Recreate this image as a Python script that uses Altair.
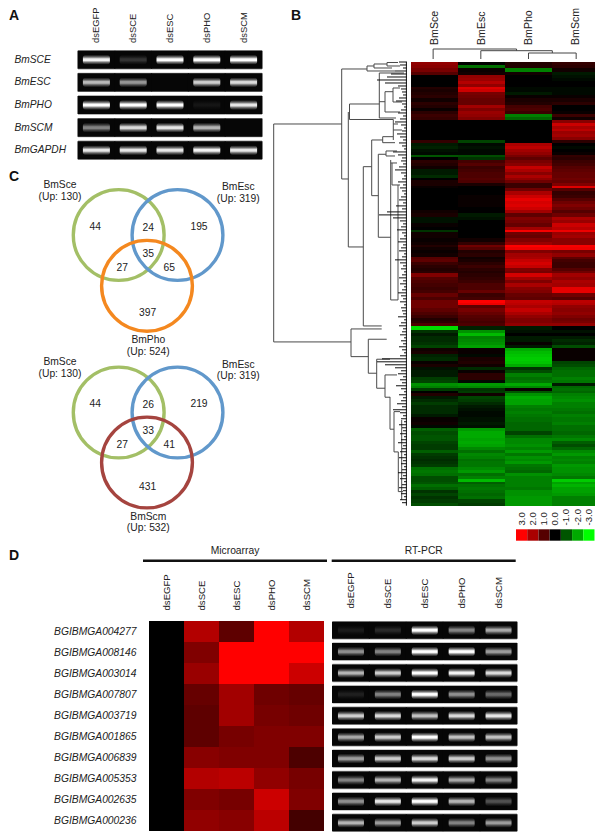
import altair as alt
import pandas as pd

W, H = 587, 826
LEFT, TOP = 8, 8
FONT = "Liberation Sans"
INK = "#222222"

# ---------- Panel A ----------
A_SAMPLES = ["dsEGFP", "dsSCE", "dsESC", "dsPHO", "dsSCM"]
A_GENES = ["BmSCE", "BmESC", "BmPHO", "BmSCM", "BmGAPDH"]
A_BANDS = [
    [.95, .18, 1, 1, 1],
    [.72, .58, 0, .8, .85],
    [1, 1, 1, .06, .9],
    [.5, .85, .9, .7, 0],
    [.9, .9, .9, .95, .9],
]

# ---------- Panel B ----------
B_CONDITIONS = ["BmSce", "BmEsc", "BmPho", "BmScm"]
# each block: height of the block in the heat map, rows (Sce, Esc, Pho, Scm)
HEAT_BLOCKS = [
    (13, [(1.7,0,.4,.6),(1.6,-1.3,.4,.5),(1.4,.1,-1.5,.2),(1,.2,.2,-.3)]),
    (11.7, [(0,1.7,0,-.2),(0,1.8,0,-.1),(0,2.1,0,0),(0,1.7,0,0)]),
    (5, [(.4,2.6,-.1,-.1),(.3,2.4,-.1,-.1)]),
    (13.3, [(.4,1.4,-.3,-.1),(.5,1.3,.1,.1),(.2,1.2,.3,.3),(.5,1.2,.4,.5)]),
    (15, [(.4,1.9,.8,0),(.1,1.5,.9,0),(.5,1.8,.7,.1),(.7,1.7,-1.5,.7),(.6,1.5,-1.2,.2)]),
    (20, [(0,0,0,1.6),(0,0,0,2.4),(0,0,0,2),(0,0,0,2.2),(0,0,0,1.8),(0,0,0,1.9),(0,0,0,1.6)]),
    (3.3, [(.6,-.8,0,.5)]),
    (11.7, [(-.3,-.1,2,0),(-.4,-.2,2.2,-.1),(-.2,-.1,1.9,0),(-.1,-.1,1.7,.1)]),
    (5, [(-1,-.9,1.4,.6),(0,-.6,1.1,.5)]),
    (15, [(.5,.8,1.4,.7),(.4,1,1.6,.8),(.2,.7,2.3,1),(-.3,.8,2,1.1),(-.3,.9,1.6,1.2)]),
    (11, [(-.5,.9,2,1.2),(0,1,1.7,1.3),(.3,.9,1.3,1.2),(.3,.3,.7,1.5)]),
    (2.3, [(.1,0,.7,2.6)]),
    (25, [(0,0,1.3,1),(0,0,2,.6),(0,.1,2.4,.7),(0,.1,2.7,1),(0,.1,2.5,1.3),(0,.1,2.6,1.5),(0,0,2.4,1.3),(.2,0,1.9,1)]),
    (16.7, [(.3,-.3,1.1,1.3),(-.2,-.2,1.5,2),(-.2,0,1.4,1.8),(.1,0,1.2,2.4),(0,0,1.9,2.2)]),
    (2, [(-.6,0,2.9,2.8)]),
    (13, [(.2,0,1.3,1.8),(.2,0,1.2,1.9),(.1,.2,1.5,1.6),(.2,.6,1.8,1.6)]),
    (5, [(.4,1.3,3,2.9),(.2,1,2.8,2.8)]),
    (6.7, [(.1,.4,1.5,1.4),(.2,.5,1.9,1.7)]),
    (16.7, [(1,.2,2,1.1),(1.1,.3,2.3,.8),(.7,.5,2.5,.7),(.5,.7,2.3,.7),(.4,.5,1.5,1),(.5,.4,1.4,1.3)]),
    (13.3, [(1.5,.5,2.5,1.9),(1,.6,1.9,1.7),(.9,.7,1.5,2),(.8,.9,2,1.9)]),
    (6.7, [(.7,.9,1.6,2.7),(.8,1.2,1.5,2.7)]),
    (6.7, [(1.2,.7,1.2,1.3),(.9,.8,1.1,1)]),
    (5, [(1.3,3,2.3,2.2),(1.3,2.8,2.2,2.1)]),
    (10, [(1.3,1.1,2,1.7),(1.1,1.4,2.3,1.6),(.9,1.2,2,1.7)]),
    (11, [(.7,1,1.7,1.5),(.4,.9,1.5,1.3),(.5,.8,1.5,1.4),(.9,.9,1.7,1.7)]),
    (4, [(-2.6,-.4,-.3,0)]),
    (18.3, [(-.6,-1.7,-.2,-.2),(-.3,-2.2,0,0),(-.5,-1.5,-.3,-.3),(-.5,-1.6,-.3,-.5),(-.6,-1.7,.1,-.4),(-.8,-1.9,-.3,-.9)]),
    (18.3, [(.2,.1,-2,.1),(.3,.1,-2.2,.1),(-.4,-.1,-2.3,.1),(-.5,.3,-2.4,.1),(.1,.4,-2.3,-.8),(.3,.2,-2,-.9)]),
    (16.7, [(-.2,-.5,-.6,-1.2),(-.3,.1,-.9,-1.3),(-.3,.5,-1.5,-1.3),(-.7,.5,-1.3,-1.5),(-.8,-.1,-1.4,-1.4)]),
    (5, [(-1.7,-1.8,-2,-.3),(-1.5,-1.6,-1.6,-1.2)]),
    (5, [(-.7,-.6,.1,-1.3),(0,-.7,-1,-1.2)]),
    (23.3, [(.4,.2,-1.7,-1.5),(-.3,-.8,-2,-1.6),(-.5,-.7,-1.9,-1.7),(-.7,-.5,-1.9,-1.5),(-.5,-.3,-1.5,-1.5),(-.5,-.2,-1.4,-1.4),(-.5,-.1,-1.5,-1.3),(-.3,-.1,-1.4,-1.5)]),
    (11.7, [(.1,-.2,-1.3,-1.4),(.1,-.2,-1.3,-1.4),(.2,-.3,-1.2,-1.5),(-.1,-.2,-1.2,-1.3)]),
    (21.7, [(-1.1,-1.8,-1.2,-1.3),(-.9,-2,-.8,-1.2),(-1,-2,-1.3,-1.4),(-1,-1.9,-1.6,-1.6),(-.8,-2,-1.6,-1.1),(-.7,-1.9,-1.7,-.9),(-.7,-1.6,-1.5,-1.2)]),
    (20, [(-1.1,-1.3,-1.8,-1.6),(-.7,-1.6,-1.4,-1.8),(-.6,-1.5,-1.7,-1.5),(-.5,-1.3,-1.6,-1.6),(-.6,-1.4,-1.8,-1.5),(-.7,-1.4,-1.4,-1.8),(-1.3,-1.6,-1.3,-1.7)]),
    (11.7, [(-1.4,-1.8,-1.2,-1.7),(-1.3,-1.3,-1.7,-1.6),(-.9,-1.5,-1.5,-1.4),(-.9,-2.2,-1.5,-2.4)]),
    (8.3, [(-1,-1.1,-1.5,-1.9),(-1.3,-1.3,-1.5,-2.1),(-1.1,-1.4,-1.4,-1.9)]),
    (15.7, [(-.6,-1.3,-1.7,-1.9),(-.8,-1.2,-1.7,-1.8),(-.6,-1.3,-1.8,-1.5),(-.7,-.8,-1.8,-1.5),(-.9,-.7,-1.8,-1.5)]),
]
# linkage of the condition tree: (left node, right node, height)
COL_MERGES = [("BmPho", "BmScm", 6), ("BmEsc", 0, 8.3), ("BmSce", 1, 10)]
# row tree, read in figure units: horizontal links (row, from, to) and vertical links (at, from row, to row)
TREE_H = [(124,273.7,341.7),(342,273.7,351),(69,341.7,367),(179,341.7,348.3),(104,349.5,379.3),(119.5,349.5,393.3),(247,348.3,363.3),
          (66,367,374),(71,367,395),(64,374,387),(68,374,392),(62.5,387,398),(66,387,400),
          (73,379.3,404),(118,379.3,396),(101.7,379.3,385),(91.7,385,393),(112,385,400),(88,393,400),(102,393,402),
          (140,371.7,382.7),(136.7,382.7,393),(142.7,382.7,395),(130,393.3,402),(124,393.3,398),
          (195.7,371.7,378.3),(154.3,378.3,386),(151,386,397),(156,386,395),(237.3,378.3,390.7),
          (166.7,363.3,371.7),(326,363.3,381.7),(163,390.7,397),(185,392,400),(300,390.7,398),
          (329,351,381.7),(356.7,351,368.3),(339.3,368.3,386.7),(373.3,368.3,376.7),(359.3,376.7,390),(388.3,376.7,385),
          (375,385,397),(397.3,385,390),(429.3,390,394),(452,394,398.3),(411.7,394,400),(491.7,398.3,403)]
TREE_V = [(273.7,124,342),(341.7,69,179),(349.5,104,119.5),(348.3,112,247),(379.3,73,118),(385,91.7,112),(393,88,102),
          (367,66,71),(374,64,68),(387,62.5,66),(393.3,119.5,140),(382.7,136.7,142.7),(371.7,140,195.7),(378.3,154.3,237.3),
          (386,151,156),(390.7,160,300),(363.3,166.7,326),(351,329,356.7),(368.3,339.3,373.3),(376.7,359.3,388.3),
          (385,375,397.3),(390,397,429.3),(394,411.7,452),(398.3,452,491.7),(401.7,420,500),(398,185,300),(392,163,185)]
ROW_TWIGS = [8,7,4,12,16,20,30,22,9,6,5,4,8,11,5,3,6,9,4,7,12,6,3,5,10,7,4,8,5,3,14,9,5,6,4,8,12,6,3,5,
             9,4,7,5,3,6,8,4,11,5,20,28,14,7,4,6,10,5,3,7,9,4,6,8,3,5,12,7,4,6,3,5,8,4,7,3,5,9,6,4,
             7,3,6,5,4,9,3,6,8,4,5,7,3,6,4,8,5,3,7,25,30,22,12,6,9,4,7,5,11,6,3,8,4,6,10,5,14,7,4,6,
             3,8,5,4,7,3,6,9,4,5,7,3,8,4,6,3,5,9,4,7,3,5,8,4,6,3,7,5]

COLORBAR_LABELS = ["3.0", "2.0", "1.0", "0.0", "-1.0", "-2.0", "-3.0"]
COLORBAR_VALUES = [3, 2, 1, 0, -1, -2, -3]

# ---------- Panel C ----------
VENN1_NUMBERS = [("44",95.3,62),("24",148.3,63.3),("195",199,62),("35",148.3,88.7),("27",122.3,103),("65",169.3,103),("397",147.7,148)]
VENN1_NAMES = [("BmSce",60,20),("(Up: 130)",60,31.7),("BmEsc",238.3,22.3),("(Up: 319)",238.3,34),("BmPho",148.3,175),("(Up: 524)",148.3,187.3)]
VENN2_NUMBERS = [("44",95.3,59.3),("26",148.3,60),("219",199,59),("33",148.3,85.7),("27",122.3,100),("41",169.3,100),("431",147.7,142.3)]
VENN2_NAMES = [("BmSce",60,17.3),("(Up: 130)",60,29),("BmEsc",238.3,20),("(Up: 319)",238.3,31),("BmScm",148.3,171.7),("(Up: 532)",148.3,183.3)]
VENN1_SETS = [("#A3BF66",118.7,70),("#6198CB",177.5,70),("#F4881F",147,120.8)]
VENN2_SETS = [("#A3BF66",118.7,67.5),("#6198CB",177.5,67.5),("#A5443F",147,117.5)]

# ---------- Panel D ----------
D_SAMPLES = ["dsEGFP", "dsSCE", "dsESC", "dsPHO", "dsSCM"]
D_GENES = ["BGIBMGA004277","BGIBMGA008146","BGIBMGA003014","BGIBMGA007807","BGIBMGA003719",
           "BGIBMGA001865","BGIBMGA006839","BGIBMGA005353","BGIBMGA002635","BGIBMGA000236"]
D_MICROARRAY = [
    [0,2.1,1.1,3,2.1],[0,1.5,3,3,3],[0,1.8,3,3,2.4],[0,1.2,1.9,1.3,1.2],[0,1.1,1.9,1.4,1.3],
    [0,1.1,1.4,1.5,1.5],[0,1.6,1.5,1.5,.9],[0,2.1,2.2,1.7,1.4],[0,1.5,1.4,2.4,1.5],[0,1.7,1.6,2.2,.8],
]
D_RTPCR = [
    [.08,.14,1,.5,.65],[.55,.5,1,1,.6],[.7,.8,1,.95,.85],[.1,.5,1,.55,.4],[.8,.85,.75,.85,.9],
    [.65,.8,1,.75,.75],[.6,.8,.85,.8,.55],[.5,.7,.95,.65,.5],[.55,.9,1,.7,.3],[.7,.6,.8,.5,.6],
]

RED_GREEN = alt.Scale(domain=[-3,-2,-1,0,1,2,3], interpolate="rgb",
                      range=["#00ff00","#00aa00","#005500","#000000","#550000","#aa0000","#ff0000"])
GLOW = alt.LinearGradient(gradient="linear", x1=0, x2=0, y1=0, y2=1, stops=[
    alt.GradientStop(color="#000000", offset=0), alt.GradientStop(color="#777777", offset=.24),
    alt.GradientStop(color="#ffffff", offset=.42), alt.GradientStop(color="#ffffff", offset=.58),
    alt.GradientStop(color="#777777", offset=.76), alt.GradientStop(color="#000000", offset=1)])

def fx(a, b):
    """Reference figure coordinates into the plot's pixel range."""
    return [a - LEFT, b - LEFT]

def fy(a, b):
    return [a - TOP, b - TOP]

FIG_X = alt.Scale(domain=[LEFT, LEFT + W], range=[0, W])
FIG_Y = alt.Scale(domain=[TOP, TOP + H], range=[0, H])
layers = []

def top_axis(at, size, pad=0):
    return alt.Axis(orient="top", offset=-(at - TOP), domain=False, ticks=False, labelAngle=-90, labelAlign="left",
                    labelBaseline="middle", labelFont=FONT, labelFontSize=size, labelColor=INK, labelPadding=pad,
                    labelOverlap=False, labelBound=False, labelFlush=False, title=None, grid=False)

def left_axis(at, size, align):
    return alt.Axis(orient="left", offset=-(at - LEFT), domain=False, ticks=False, labelAlign=align, labelFont=FONT,
                    labelFontSize=size, labelFontStyle="italic", labelColor=INK, labelPadding=0, labelOverlap=False,
                    labelBound=False, labelFlush=False, title=None, grid=False)

def gels(samples, genes, matrix, xr, yr, band_h, band_w, head_at, head_size, gene_at=None, gene_align="left", gene_size=10.2, pad=.1):
    rows = [dict(gene=g, sample=s, v=matrix[i][j]) for i, g in enumerate(genes) for j, s in enumerate(samples)]
    df = pd.DataFrame(rows)
    xs = alt.Scale(domain=samples, range=fx(*xr), paddingInner=0, paddingOuter=0)
    ys = alt.Scale(domain=genes, range=fy(*yr), paddingInner=pad, paddingOuter=0)
    gx = alt.X("sample:N", scale=xs, axis=top_axis(head_at, head_size))
    if gene_at is None:
        gy = alt.Y("gene:N", scale=ys, axis=None)
    else:
        gy = alt.Y("gene:N", scale=ys, axis=left_axis(gene_at, gene_size, gene_align))
    nx = alt.X("sample:N", scale=xs, axis=None)
    ny = alt.Y("gene:N", scale=ys, axis=None)
    step = (yr[1] - yr[0]) / (len(genes) - pad)
    layers.append(alt.Chart(df).mark_rect(color="#9a9a9a").encode(x=gx, y=gy))
    layers.append(alt.Chart(df).mark_rect(color="#060606", height=step * (1 - pad) - 1.4,
                                          width=(xr[1] - xr[0]) / len(samples) + 1).encode(x=nx, y=ny))
    layers.append(alt.Chart(df).mark_rect(color=GLOW, width=band_w, height=band_h, cornerRadius=3).encode(
        x=nx, y=ny, opacity=alt.Opacity("v:Q", scale=alt.Scale(domain=[0, 1], range=[0, 1]), legend=None)))

def texts(items, sx, sy, size, extra=None):
    df = pd.DataFrame(items, columns=["t", "x", "y"])
    kw = dict(font=FONT, fontSize=size, color=INK, align="center", baseline="middle")
    kw.update(extra or {})
    return alt.Chart(df).mark_text(**kw).encode(text="t:N",
        x=alt.X("x:Q", scale=sx, axis=None), y=alt.Y("y:Q", scale=sy, axis=None))

# Panel A
gels(A_SAMPLES, A_GENES, A_BANDS, (78, 262), (50, 160), 10, 27, 42.5, 9.4, gene_at=14, pad=.14)

# Panel B heat map
rows, top = [], 0.0
for span, block in HEAT_BLOCKS:
    h = span / len(block)
    for k, row in enumerate(block):
        for cond, v in zip(B_CONDITIONS, row):
            rows.append(dict(cond=cond, y0=top + k * h, y1=top + (k + 1) * h, v=v))
    top += span
heat = pd.DataFrame(rows)
HX = fx(409.3, 600)
heat_y = alt.Scale(domain=[0, top], range=fy(62, 505.7), round=True)
layers.append(alt.Chart(heat).mark_rect().encode(
    x=alt.X("cond:N", scale=alt.Scale(domain=B_CONDITIONS, range=HX, paddingInner=0, paddingOuter=0, round=True), axis=top_axis(44.5, 10.6)),
    y=alt.Y("y0:Q", scale=heat_y, axis=None), y2="y1:Q",
    color=alt.Color("v:Q", scale=RED_GREEN, legend=None)))

# condition tree
pos, segs, nodes = {c: i + .5 for i, c in enumerate(B_CONDITIONS)}, [], {}
base = {c: 0 for c in B_CONDITIONS}
for i, (a, b, ht) in enumerate(COL_MERGES):
    pa, pb = (pos[a], base[a]) if a in pos else nodes[a]
    qa, qb = (pos[b], base[b]) if b in pos else nodes[b]
    segs += [dict(x=pa, x2=pa, y=pb, y2=ht), dict(x=qa, x2=qa, y=qb, y2=ht), dict(x=pa, x2=qa, y=ht, y2=ht)]
    nodes[i] = ((pa + qa) / 2, ht)
layers.append(alt.Chart(pd.DataFrame(segs)).mark_rule(color="#444444", strokeWidth=1).encode(
    x=alt.X("x:Q", scale=alt.Scale(domain=[0, 4], range=HX), axis=None), x2="x2:Q",
    y=alt.Y("y:Q", scale=alt.Scale(domain=[0, 10], range=fy(59, 49)), axis=None), y2="y2:Q"))

# row tree
segs = [dict(d=407 - a, d2=407 - b, r=r - 62, r2=r - 62) for r, a, b in TREE_H]
segs += [dict(d=407 - x, d2=407 - x, r=a - 62, r2=b - 62) for x, a, b in TREE_V]
tw = [dict(d=0, d2=t, r=i * top / len(ROW_TWIGS), r2=i * top / len(ROW_TWIGS)) for i, t in enumerate(ROW_TWIGS)]
tw.append(dict(d=.6, d2=.6, r=0, r2=top))
tree_x = alt.Scale(domain=[0, 133.3], range=fx(407, 273.7))
for data, color in ((pd.DataFrame(segs), "#4a4a4a"), (pd.DataFrame(tw), "#111111")):
    layers.append(alt.Chart(data).mark_rule(color=color, strokeWidth=1).encode(
        x=alt.X("d:Q", scale=tree_x, axis=None), x2="d2:Q",
        y=alt.Y("r:Q", scale=alt.Scale(domain=[0, top], range=fy(62, 505.7)), axis=None), y2="r2:Q"))

# colour key
key = pd.DataFrame(dict(label=COLORBAR_LABELS, v=COLORBAR_VALUES, row=["k"] * 7))
layers.append(alt.Chart(key).mark_rect().encode(
    x=alt.X("label:N", sort=COLORBAR_LABELS,
            scale=alt.Scale(domain=COLORBAR_LABELS, range=fx(516, 594.5), paddingInner=0, paddingOuter=0),
            axis=top_axis(525, 9.6)),
    y=alt.Y("row:N", scale=alt.Scale(domain=["k"], range=fy(529.3, 540.7), paddingInner=0, paddingOuter=0), axis=None),
    color=alt.Color("v:Q", scale=RED_GREEN, legend=None)))

# Panel C
for sets, numbers, names, y0 in ((VENN1_SETS, VENN1_NUMBERS, VENN1_NAMES, 165), (VENN2_SETS, VENN2_NUMBERS, VENN2_NAMES, 345)):
    vx = alt.Scale(domain=[0, W], range=[-LEFT, W - LEFT])
    vy = alt.Scale(domain=[0, H], range=[y0 - TOP, y0 - TOP + H])
    for color, cx, cy in sets:
        layers.append(alt.Chart(pd.DataFrame([dict(x=cx, y=cy)])).mark_point(
            filled=False, stroke=color, strokeWidth=3.4, opacity=1, size=(2 * 45.4) ** 2, clip=False).encode(
            x=alt.X("x:Q", scale=vx, axis=None), y=alt.Y("y:Q", scale=vy, axis=None)))
    layers.append(texts(numbers, vx, vy, 10.3))
    layers.append(texts(names, vx, vy, 10.3))

# Panel D microarray
rows = [dict(gene=g, sample=s, v=D_MICROARRAY[i][j]) for i, g in enumerate(D_GENES) for j, s in enumerate(D_SAMPLES)]
layers.append(alt.Chart(pd.DataFrame(rows)).mark_rect().encode(
    x=alt.X("sample:N", scale=alt.Scale(domain=D_SAMPLES, range=fx(146.7, 326), paddingInner=0, paddingOuter=0, round=True),
            axis=top_axis(610, 9.6)),
    y=alt.Y("gene:N", scale=alt.Scale(domain=D_GENES, range=fy(621, 831.7), paddingInner=0, paddingOuter=0, round=True),
            axis=left_axis(136, 10.3, "right")),
    color=alt.Color("v:Q", scale=RED_GREEN, legend=None)))

# Panel D RT-PCR
gels(D_SAMPLES, D_GENES, D_RTPCR, (332.5, 517), (621, 832), 10, 26, 608, 9.6, pad=.14)

# titles, section rules, panel letters
section_rules = pd.DataFrame([dict(x=143, x2=327, y=560.7), dict(x=331.7, x2=515.7, y=560.7)])
layers.append(alt.Chart(section_rules).mark_rule(color="#111111", strokeWidth=2.4).encode(
    x=alt.X("x:Q", scale=FIG_X, axis=None), x2="x2:Q", y=alt.Y("y:Q", scale=FIG_Y, axis=None)))
layers.append(texts([("Microarray", 235, 551), ("RT-PCR", 423.7, 551)], FIG_X, FIG_Y, 10.3))
layers.append(texts([("A", 9, 16), ("B", 291, 16), ("C", 9, 177), ("D", 9, 556)], FIG_X, FIG_Y, 14,
                    dict(fontWeight="bold", align="left", color="#111111")))

chart = alt.layer(*layers).resolve_scale(x="independent", y="independent").properties(
    width=W, height=H, padding=0, autosize=alt.AutoSizeParams(type="none")
).configure_view(stroke=None).configure_axis(grid=False)

chart.save("out.html", embed_options={"renderer": "svg", "actions": False})
